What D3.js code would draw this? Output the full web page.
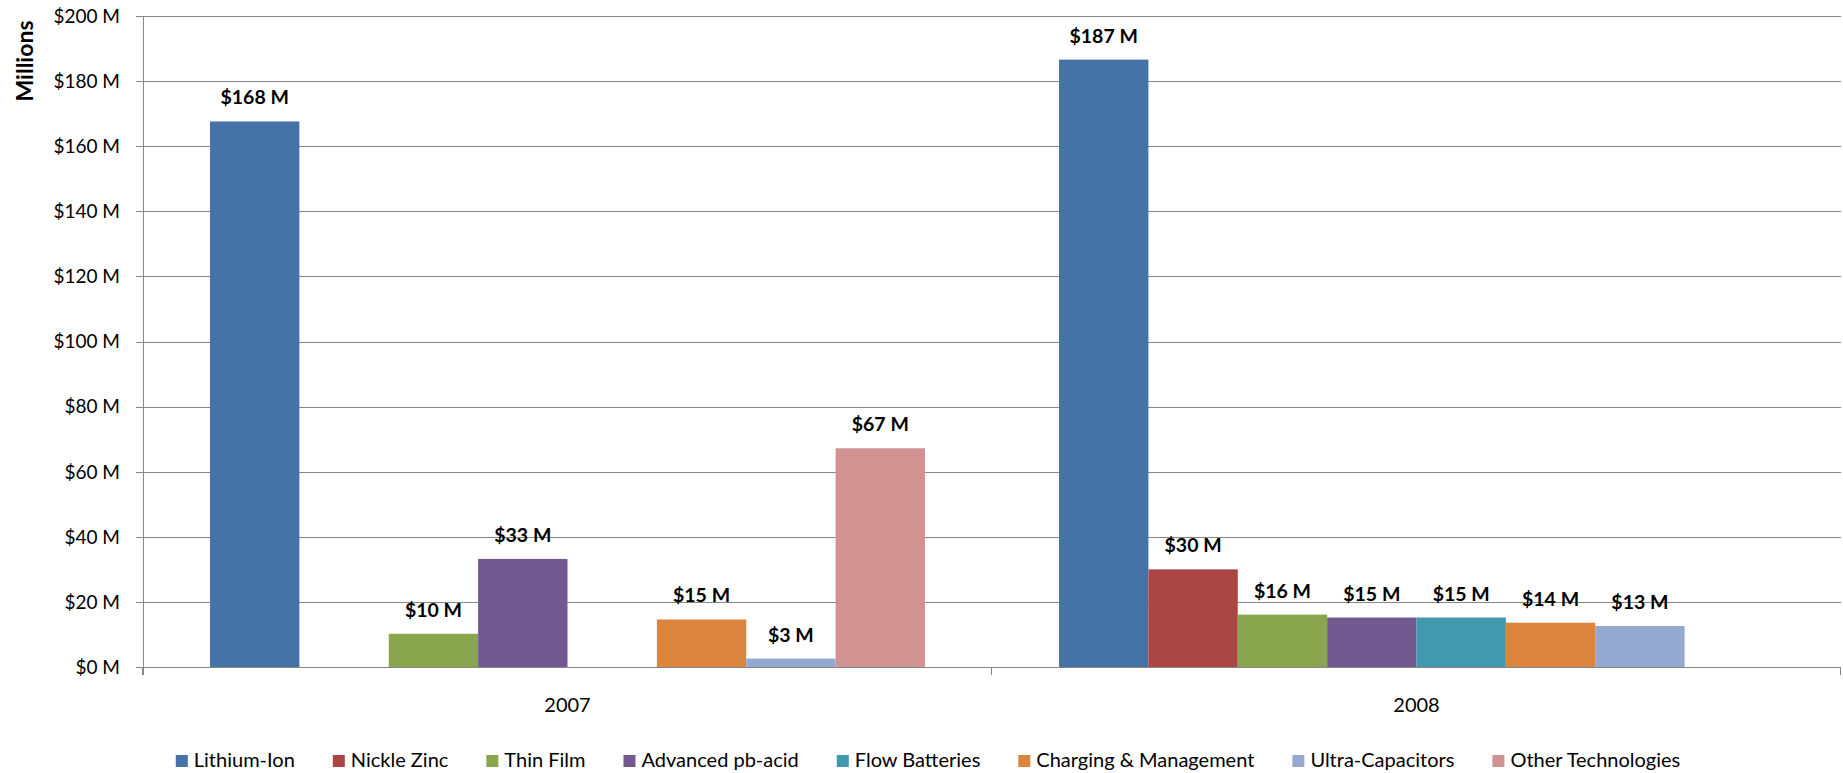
<!DOCTYPE html>
<html>
<head>
<meta charset="utf-8">
<script src="https://cdn.jsdelivr.net/npm/d3@7"></script>
<style>
  html, body { margin: 0; padding: 0; background: #fff; }
  svg { display: block; font-family: Lato, "Open Sans", sans-serif; }
</style>
</head>
<body>
<svg id="chart" width="1843" height="773"></svg>
<script>
// Investment by storage technology, in millions of dollars
const years = ["2007", "2008"];
const technologies = ["Lithium-Ion", "Nickle Zinc", "Thin Film", "Advanced pb-acid",
  "Flow Batteries", "Charging & Management", "Ultra-Capacitors", "Other Technologies"];
const colors = ["#4572A7", "#AA4643", "#89A54E", "#71588F", "#4198AF", "#DB843D", "#93A9CF", "#D19392"];
// null = no investment reported for that year
const values2007 = [167.6, null, 10.2, 33.2, null, 14.6, 2.6, 67.2];
const values2008 = [186.6, 30.0, 16.1, 15.2, 15.2, 13.6, 12.6, null];
const yTicks = [0, 20, 40, 60, 80, 100, 120, 140, 160, 180, 200];
const yLabel = "Millions";

const valuesByYear = { "2007": values2007, "2008": values2008 };

const svg = d3.select("#chart");
const plot = { left: 143, right: 1841, top: 16, bottom: 667 };

const x0 = d3.scaleBand().domain(years).range([plot.left, plot.right]).padding(0);
const x1 = d3.scaleBand().domain(technologies).range([0, x0.bandwidth()])
  .paddingInner(0).paddingOuter(0.75);
const y = d3.scaleLinear().domain([0, 200]).range([plot.bottom, plot.top]);

const fmt = v => "$" + Math.round(v) + " M";

// Horizontal gridlines with small ticks to the left of the axis
const grid = svg.append("g");
grid.selectAll("line").data(yTicks.filter(t => t > 0)).join("line")
  .attr("x1", plot.left - 7).attr("x2", plot.right)
  .attr("y1", d => Math.round(y(d)) + 0.5).attr("y2", d => Math.round(y(d)) + 0.5)
  .attr("stroke", "#878787").attr("stroke-width", 1);

// Y axis labels
svg.append("g").selectAll("text").data(yTicks).join("text")
  .attr("x", 120).attr("y", d => y(d))
  .attr("dy", "0.36em").attr("text-anchor", "end")
  .attr("font-size", 19).attr("fill", "#000")
  .text(d => "$" + d + " M");

svg.append("text")
  .attr("transform", `translate(33,${61}) rotate(-90)`)
  .attr("text-anchor", "middle")
  .attr("font-size", 23).attr("font-weight", "bold").attr("fill", "#000")
  .text(yLabel);

// Bars
const rows = years.flatMap(yr => technologies.map((t, i) => ({
  year: yr, tech: t, color: colors[i], value: valuesByYear[yr][i]
}))).filter(d => d.value != null);

const bars = svg.append("g");
bars.selectAll("rect").data(rows).join("rect")
  .attr("x", d => x0(d.year) + x1(d.tech))
  .attr("y", d => y(d.value))
  .attr("width", x1.bandwidth())
  .attr("height", d => y(0) - y(d.value))
  .attr("fill", d => d.color);

// Value labels
svg.append("g").selectAll("text").data(rows).join("text")
  .attr("x", d => x0(d.year) + x1(d.tech) + x1.bandwidth() / 2)
  .attr("y", d => y(d.value) - 17)
  .attr("text-anchor", "middle")
  .attr("font-size", 19.5).attr("font-weight", "bold").attr("fill", "#000")
  .text(d => fmt(d.value));

// Axes lines
const axis = svg.append("g").attr("stroke", "#878787").attr("stroke-width", 1);
axis.append("line")
  .attr("x1", plot.left + 0.5).attr("x2", plot.left + 0.5)
  .attr("y1", plot.top).attr("y2", plot.bottom + 8);
axis.append("line")
  .attr("x1", plot.left - 7).attr("x2", plot.right)
  .attr("y1", plot.bottom + 0.5).attr("y2", plot.bottom + 0.5);
const boundaries = years.map(yr => x0(yr)).concat([x0(years[years.length - 1]) + x0.bandwidth()]);
axis.selectAll(".cat-tick").data(boundaries).join("line")
  .attr("class", "cat-tick")
  .attr("x1", d => Math.round(d) - 0.5).attr("x2", d => Math.round(d) - 0.5)
  .attr("y1", plot.bottom).attr("y2", plot.bottom + 8);

// Category labels
svg.append("g").selectAll("text").data(years).join("text")
  .attr("x", d => x0(d) + x0.bandwidth() / 2)
  .attr("y", 712)
  .attr("text-anchor", "middle")
  .attr("font-size", 20).attr("fill", "#000")
  .text(d => d);

// Legend, laid out from measured text widths and centered
const legend = svg.append("g");
const items = legend.selectAll("g").data(technologies).join("g");
items.append("rect")
  .attr("width", 12).attr("height", 12).attr("y", -12)
  .attr("fill", (d, i) => colors[i]);
items.append("text")
  .attr("x", 18).attr("y", 0)
  .attr("font-size", 20).attr("fill", "#000")
  .text(d => d);
const gap = 38;
let cursor = 0;
const offsets = [];
items.each(function () {
  offsets.push(cursor);
  const w = d3.select(this).select("text").node().getComputedTextLength() + 18;
  cursor += w + gap;
});
const total = cursor - gap;
const legendCenter = 928;
items.attr("transform", (d, i) => `translate(${legendCenter - total / 2 + offsets[i]},0)`);
legend.attr("transform", "translate(0,767)");
</script>
</body>
</html>
